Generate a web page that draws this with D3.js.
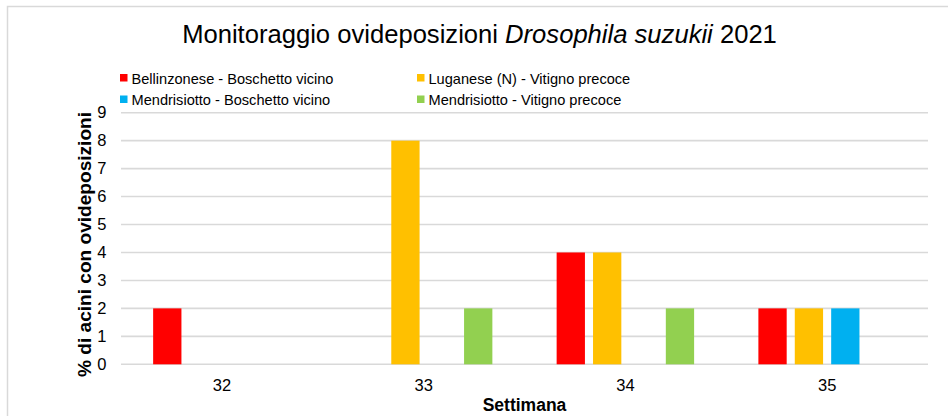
<!DOCTYPE html>
<html>
<head>
<meta charset="utf-8">
<script src="https://cdn.jsdelivr.net/npm/d3@7"></script>
<style>
  body { margin: 0; background: #fff; }
  svg { display: block; font-family: "Liberation Sans", Arial, sans-serif; }
</style>
</head>
<body>
<div id="chart"></div>
<script>
// data
var weeks = ["32", "33", "34", "35"];
var seriesNames = [
  "Bellinzonese - Boschetto vicino",
  "Luganese (N) - Vitigno precoce",
  "Mendrisiotto - Boschetto vicino",
  "Mendrisiotto - Vitigno precoce"
];
var seriesColors = ["#ff0000", "#ffc000", "#00b0f0", "#92d050"];
var bellinzoneseBoschetto = [2, 0, 4, 2];
var luganeseVitigno = [0, 8, 4, 2];
var mendrisiottoBoschetto = [0, 0, 0, 2];
var mendrisiottoVitigno = [0, 2, 2, 0];
var yTicks = [0, 1, 2, 3, 4, 5, 6, 7, 8, 9];

var seriesValues = [bellinzoneseBoschetto, luganeseVitigno, mendrisiottoBoschetto, mendrisiottoVitigno];

var width = 948, height = 416;
var plot = { left: 121, right: 928, top: 112.7, bottom: 364.3 };

var svg = d3.select("#chart")
  .append("svg")
    .attr("width", width)
    .attr("height", height);

// outer frame
svg.append("rect")
  .attr("x", 7.5).attr("y", 6.5)
  .attr("width", 960).attr("height", 430)
  .attr("fill", "#fff")
  .attr("stroke", "#d9d9d9")
  .attr("stroke-width", 1.5);

// title
var title = svg.append("text")
  .attr("x", 479.5)
  .attr("y", 43)
  .attr("text-anchor", "middle")
  .attr("font-size", 25.6)
  .attr("fill", "#000");
title.append("tspan").text("Monitoraggio ovideposizioni ");
title.append("tspan").attr("font-style", "italic").text("Drosophila suzukii");
title.append("tspan").text(" 2021");

var x0 = d3.scaleBand()
  .domain(weeks)
  .range([plot.left, plot.right])
  .paddingInner(0)
  .paddingOuter(0);

var x1 = d3.scaleBand()
  .domain(d3.range(seriesNames.length))
  .range([0, x0.bandwidth()])
  .paddingInner(0.2225)
  .paddingOuter(0.883);

var y = d3.scaleLinear()
  .domain([0, 9])
  .range([plot.bottom, plot.top]);

// gridlines
svg.append("g")
  .selectAll("line")
  .data(yTicks)
  .join("line")
    .attr("x1", plot.left)
    .attr("x2", plot.right)
    .attr("y1", function(d) { return y(d); })
    .attr("y2", function(d) { return y(d); })
    .attr("stroke", "#d9d9d9")
    .attr("stroke-width", 1.6);

// y axis labels
var yAxis = svg.append("g")
  .attr("transform", "translate(" + plot.left + ",0)")
  .call(d3.axisLeft(y).tickValues(yTicks).tickSize(0).tickPadding(14.5));
yAxis.select(".domain").remove();
yAxis.selectAll("text")
  .attr("font-family", "Liberation Sans, Arial, sans-serif")
  .attr("font-size", 16.5)
  .attr("fill", "#000");

// x axis labels
var xAxis = svg.append("g")
  .attr("transform", "translate(0," + plot.bottom + ")")
  .call(d3.axisBottom(x0).tickSize(0).tickPadding(14.5));
xAxis.select(".domain").remove();
xAxis.selectAll("text")
  .attr("font-family", "Liberation Sans, Arial, sans-serif")
  .attr("font-size", 16.5)
  .attr("fill", "#000");

// bars
var rows = [];
weeks.forEach(function(w, i) {
  seriesValues.forEach(function(vals, s) {
    rows.push({ week: w, series: s, value: vals[i] });
  });
});

svg.append("g")
  .selectAll("rect")
  .data(rows.filter(function(d) { return d.value > 0; }))
  .join("rect")
    .attr("x", function(d) { return x0(d.week) + x1(d.series); })
    .attr("y", function(d) { return y(d.value); })
    .attr("width", x1.bandwidth())
    .attr("height", function(d) { return y(0) - y(d.value); })
    .attr("fill", function(d) { return seriesColors[d.series]; });

// axis titles
svg.append("text")
  .attr("x", (plot.left + plot.right) / 2)
  .attr("y", 411)
  .attr("text-anchor", "middle")
  .attr("font-size", 17.5)
  .attr("font-weight", "bold")
  .text("Settimana");

svg.append("text")
  .attr("transform", "translate(91,244.5) rotate(-90)")
  .attr("text-anchor", "middle")
  .attr("font-size", 19)
  .attr("font-weight", "bold")
  .attr("textLength", 265)
  .attr("lengthAdjust", "spacingAndGlyphs")
  .text("% di acini  con ovideposizioni");

// legend
var legend = svg.append("g")
  .selectAll("g")
  .data(seriesNames)
  .join("g")
    .attr("transform", function(d, i) {
      return "translate(" + [120, 417][i % 2] + "," + (83.5 + 21.5 * Math.floor(i / 2)) + ")";
    });
legend.append("rect")
  .attr("x", 0).attr("y", -9.5)
  .attr("width", 7.5).attr("height", 7.5)
  .attr("fill", function(d, i) { return seriesColors[i]; });
legend.append("text")
  .attr("x", 11.5)
  .attr("y", 0)
  .attr("font-size", 14.6)
  .attr("fill", "#000")
  .text(function(d) { return d; });
</script>
</body>
</html>
